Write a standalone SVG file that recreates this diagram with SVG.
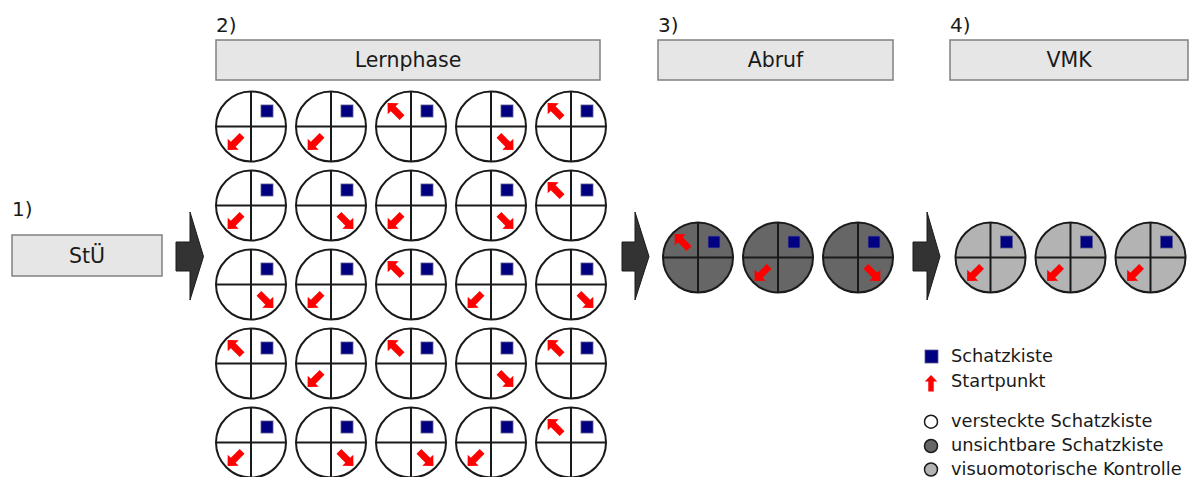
<svg xmlns="http://www.w3.org/2000/svg" xmlns:xlink="http://www.w3.org/1999/xlink" width="1199" height="477" viewBox="0 0 1199 477">
<style>
text{font-family:"DejaVu Sans","Verdana",sans-serif;fill:#1a1a1a}
.hd{font-size:20.5px;text-anchor:middle}
.num{font-size:20px}
.lg{font-size:17.8px}
.box{fill:#e6e6e6;stroke:#808080;stroke-width:1.5}
.big{fill:#333333;stroke:#1a1a1a;stroke-width:1}
.cw{fill:#ffffff;stroke:#1a1a1a;stroke-width:2}
.cd{fill:#666666;stroke:#1a1a1a;stroke-width:2}
.cl{fill:#b3b3b3;stroke:#1a1a1a;stroke-width:2}
.x{stroke:#1a1a1a;stroke-width:2;fill:none}
.tk{fill:#000080;stroke:#5a5a8a;stroke-width:0.8}
.ar{fill:#ff0000}
</style>
<defs>
<polygon id="arr" class="ar" points="0,-10.5 7.8,-2.5 3.4,-2.5 3.4,10 -3.4,10 -3.4,-2.5 -7.8,-2.5"/>
<g id="sw"><use href="#arr" xlink:href="#arr" transform="translate(-16,16) rotate(-135)"/></g>
<g id="se"><use href="#arr" xlink:href="#arr" transform="translate(15,16) rotate(135)"/></g>
<g id="nw"><use href="#arr" xlink:href="#arr" transform="translate(-16,-16) rotate(-45)"/></g>
</defs>

<g id="connectors">
<polygon class="big" points="176,242 190,242 190,212 203.5,256.5 190,300 190,271 176,271"/>
<polygon class="big" points="622,242 635,242 635,212 649,256.5 635,300 635,271 622,271"/>
<polygon class="big" points="913,242 927,242 927,212 940,256.5 927,300 927,271 913,271"/>
</g>

<g id="step1">
<text class="num" x="12" y="216">1)</text>
<rect class="box" x="12" y="235" width="150" height="41"/>
<text class="hd" x="87" y="263">StÜ</text>
</g>
<g id="step2">
<text class="num" x="216" y="32">2)</text>
<rect class="box" x="216" y="40" width="384" height="40"/>
<text class="hd" x="408" y="67">Lernphase</text>
</g>
<g id="step3">
<text class="num" x="658" y="32">3)</text>
<rect class="box" x="658" y="40" width="235" height="40"/>
<text class="hd" x="775.5" y="67">Abruf</text>
</g>
<g id="step4">
<text class="num" x="950" y="32">4)</text>
<rect class="box" x="950" y="40" width="238" height="40"/>
<text class="hd" x="1069" y="67">VMK</text>
</g>

<!-- Lernphase grid -->
<g id="l11" transform="translate(251,126.5)"><circle class="cw" r="35"/><path class="x" d="M0-35V35M-35 0H35"/><rect class="tk" x="10" y="-21.5" width="12" height="12"/><use href="#sw" xlink:href="#sw"/></g>
<g id="l12" transform="translate(331,126.5)"><circle class="cw" r="35"/><path class="x" d="M0-35V35M-35 0H35"/><rect class="tk" x="10" y="-21.5" width="12" height="12"/><use href="#sw" xlink:href="#sw"/></g>
<g id="l13" transform="translate(411,126.5)"><circle class="cw" r="35"/><path class="x" d="M0-35V35M-35 0H35"/><rect class="tk" x="10" y="-21.5" width="12" height="12"/><use href="#nw" xlink:href="#nw"/></g>
<g id="l14" transform="translate(491,126.5)"><circle class="cw" r="35"/><path class="x" d="M0-35V35M-35 0H35"/><rect class="tk" x="10" y="-21.5" width="12" height="12"/><use href="#se" xlink:href="#se"/></g>
<g id="l15" transform="translate(571,126.5)"><circle class="cw" r="35"/><path class="x" d="M0-35V35M-35 0H35"/><rect class="tk" x="10" y="-21.5" width="12" height="12"/><use href="#nw" xlink:href="#nw"/></g>

<g id="l21" transform="translate(251,205.5)"><circle class="cw" r="35"/><path class="x" d="M0-35V35M-35 0H35"/><rect class="tk" x="10" y="-21.5" width="12" height="12"/><use href="#sw" xlink:href="#sw"/></g>
<g id="l22" transform="translate(331,205.5)"><circle class="cw" r="35"/><path class="x" d="M0-35V35M-35 0H35"/><rect class="tk" x="10" y="-21.5" width="12" height="12"/><use href="#se" xlink:href="#se"/></g>
<g id="l23" transform="translate(411,205.5)"><circle class="cw" r="35"/><path class="x" d="M0-35V35M-35 0H35"/><rect class="tk" x="10" y="-21.5" width="12" height="12"/><use href="#sw" xlink:href="#sw"/></g>
<g id="l24" transform="translate(491,205.5)"><circle class="cw" r="35"/><path class="x" d="M0-35V35M-35 0H35"/><rect class="tk" x="10" y="-21.5" width="12" height="12"/><use href="#se" xlink:href="#se"/></g>
<g id="l25" transform="translate(571,205.5)"><circle class="cw" r="35"/><path class="x" d="M0-35V35M-35 0H35"/><rect class="tk" x="10" y="-21.5" width="12" height="12"/><use href="#nw" xlink:href="#nw"/></g>

<g id="l31" transform="translate(251,284.5)"><circle class="cw" r="35"/><path class="x" d="M0-35V35M-35 0H35"/><rect class="tk" x="10" y="-21.5" width="12" height="12"/><use href="#se" xlink:href="#se"/></g>
<g id="l32" transform="translate(331,284.5)"><circle class="cw" r="35"/><path class="x" d="M0-35V35M-35 0H35"/><rect class="tk" x="10" y="-21.5" width="12" height="12"/><use href="#sw" xlink:href="#sw"/></g>
<g id="l33" transform="translate(411,284.5)"><circle class="cw" r="35"/><path class="x" d="M0-35V35M-35 0H35"/><rect class="tk" x="10" y="-21.5" width="12" height="12"/><use href="#nw" xlink:href="#nw"/></g>
<g id="l34" transform="translate(491,284.5)"><circle class="cw" r="35"/><path class="x" d="M0-35V35M-35 0H35"/><rect class="tk" x="10" y="-21.5" width="12" height="12"/><use href="#sw" xlink:href="#sw"/></g>
<g id="l35" transform="translate(571,284.5)"><circle class="cw" r="35"/><path class="x" d="M0-35V35M-35 0H35"/><rect class="tk" x="10" y="-21.5" width="12" height="12"/><use href="#se" xlink:href="#se"/></g>

<g id="l41" transform="translate(251,363.5)"><circle class="cw" r="35"/><path class="x" d="M0-35V35M-35 0H35"/><rect class="tk" x="10" y="-21.5" width="12" height="12"/><use href="#nw" xlink:href="#nw"/></g>
<g id="l42" transform="translate(331,363.5)"><circle class="cw" r="35"/><path class="x" d="M0-35V35M-35 0H35"/><rect class="tk" x="10" y="-21.5" width="12" height="12"/><use href="#sw" xlink:href="#sw"/></g>
<g id="l43" transform="translate(411,363.5)"><circle class="cw" r="35"/><path class="x" d="M0-35V35M-35 0H35"/><rect class="tk" x="10" y="-21.5" width="12" height="12"/><use href="#nw" xlink:href="#nw"/></g>
<g id="l44" transform="translate(491,363.5)"><circle class="cw" r="35"/><path class="x" d="M0-35V35M-35 0H35"/><rect class="tk" x="10" y="-21.5" width="12" height="12"/><use href="#se" xlink:href="#se"/></g>
<g id="l45" transform="translate(571,363.5)"><circle class="cw" r="35"/><path class="x" d="M0-35V35M-35 0H35"/><rect class="tk" x="10" y="-21.5" width="12" height="12"/><use href="#nw" xlink:href="#nw"/></g>

<g id="l51" transform="translate(251,442.5)"><circle class="cw" r="35"/><path class="x" d="M0-35V35M-35 0H35"/><rect class="tk" x="10" y="-21.5" width="12" height="12"/><use href="#sw" xlink:href="#sw"/></g>
<g id="l52" transform="translate(331,442.5)"><circle class="cw" r="35"/><path class="x" d="M0-35V35M-35 0H35"/><rect class="tk" x="10" y="-21.5" width="12" height="12"/><use href="#se" xlink:href="#se"/></g>
<g id="l53" transform="translate(411,442.5)"><circle class="cw" r="35"/><path class="x" d="M0-35V35M-35 0H35"/><rect class="tk" x="10" y="-21.5" width="12" height="12"/><use href="#se" xlink:href="#se"/></g>
<g id="l54" transform="translate(491,442.5)"><circle class="cw" r="35"/><path class="x" d="M0-35V35M-35 0H35"/><rect class="tk" x="10" y="-21.5" width="12" height="12"/><use href="#sw" xlink:href="#sw"/></g>
<g id="l55" transform="translate(571,442.5)"><circle class="cw" r="35"/><path class="x" d="M0-35V35M-35 0H35"/><rect class="tk" x="10" y="-21.5" width="12" height="12"/><use href="#nw" xlink:href="#nw"/></g>

<!-- Abruf -->
<g id="a1" transform="translate(698,257.5)"><circle class="cd" r="35"/><path class="x" d="M0-35V35M-35 0H35"/><rect class="tk" x="10" y="-21.5" width="12" height="12"/><use href="#nw" xlink:href="#nw"/></g>
<g id="a2" transform="translate(778,257.5)"><circle class="cd" r="35"/><path class="x" d="M0-35V35M-35 0H35"/><rect class="tk" x="10" y="-21.5" width="12" height="12"/><use href="#sw" xlink:href="#sw"/></g>
<g id="a3" transform="translate(858,257.5)"><circle class="cd" r="35"/><path class="x" d="M0-35V35M-35 0H35"/><rect class="tk" x="10" y="-21.5" width="12" height="12"/><use href="#se" xlink:href="#se"/></g>

<!-- VMK -->
<g id="v1" transform="translate(990.5,257.5)"><circle class="cl" r="35"/><path class="x" d="M0-35V35M-35 0H35"/><rect class="tk" x="10" y="-21.5" width="12" height="12"/><use href="#sw" xlink:href="#sw"/></g>
<g id="v2" transform="translate(1070.5,257.5)"><circle class="cl" r="35"/><path class="x" d="M0-35V35M-35 0H35"/><rect class="tk" x="10" y="-21.5" width="12" height="12"/><use href="#sw" xlink:href="#sw"/></g>
<g id="v3" transform="translate(1150.5,257.5)"><circle class="cl" r="35"/><path class="x" d="M0-35V35M-35 0H35"/><rect class="tk" x="10" y="-21.5" width="12" height="12"/><use href="#sw" xlink:href="#sw"/></g>

<!-- Legend -->
<g id="legend">
<rect class="tk" x="925" y="350" width="13" height="13"/>
<text class="lg" x="951" y="362">Schatzkiste</text>
<use href="#arr" xlink:href="#arr" transform="translate(931,383.5) scale(0.8)"/>
<text class="lg" x="951" y="387">Startpunkt</text>
<circle cx="931" cy="421.7" r="6.5" fill="#ffffff" stroke="#1a1a1a" stroke-width="1.5"/>
<text class="lg" x="951" y="427">versteckte Schatzkiste</text>
<circle cx="931" cy="446" r="6.5" fill="#666666" stroke="#1a1a1a" stroke-width="1.5"/>
<text class="lg" x="951" y="451">unsichtbare Schatzkiste</text>
<circle cx="931" cy="469.5" r="6.5" fill="#b3b3b3" stroke="#1a1a1a" stroke-width="1.5"/>
<text class="lg" x="951" y="474.5">visuomotorische Kontrolle</text>
</g>
</svg>
